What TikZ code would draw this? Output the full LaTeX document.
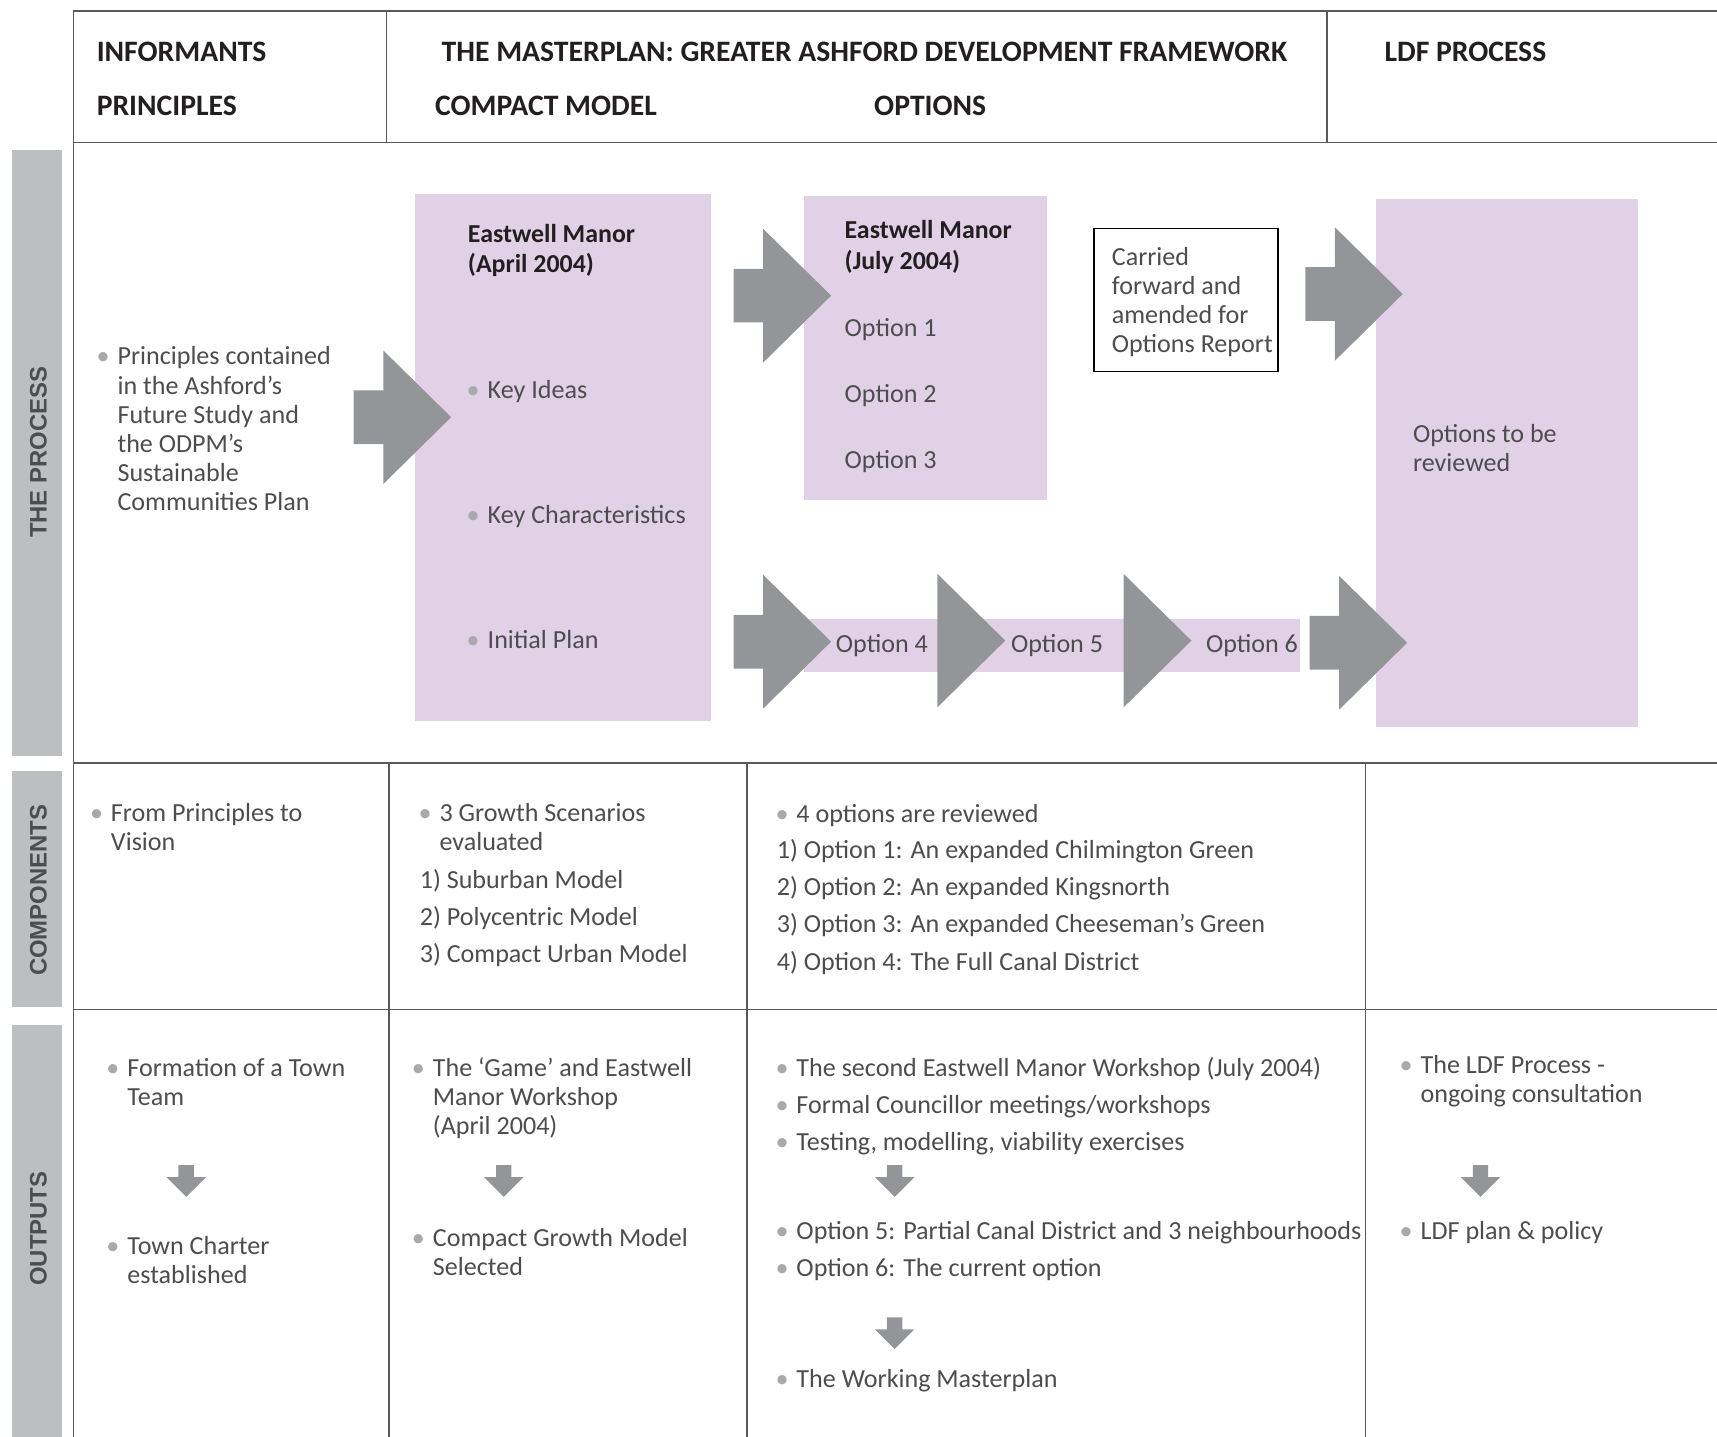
\documentclass[tikz,border=0pt]{standalone}
\usepackage{fontspec}
\setmainfont{Carlito}
\newfontfamily\sidefam{Liberation Sans}
\definecolor{lilac}{HTML}{E1D1E7}
\definecolor{arrowgrey}{HTML}{939598}
\definecolor{bargrey}{HTML}{BCBEC0}
\definecolor{rulegrey}{HTML}{58595B}
\definecolor{textgrey}{HTML}{4D4D4F}
\definecolor{headblack}{HTML}{231F20}
\definecolor{dotgrey}{HTML}{A7A9AC}
\newcommand{\bul}{\llap{\textcolor{dotgrey}{\textbullet}\hspace{4pt}}}
\tikzstyle{body} = [font=\fontsize{13.1}{14.6}\selectfont, text=textgrey, inner sep=0pt, anchor=base west, align=left]
\tikzstyle{boxtitle} = [font=\fontsize{13}{15.4}\selectfont\bfseries, text=headblack, inner sep=0pt, anchor=base west, align=left]
\tikzstyle{colhead} = [font=\fontsize{14.9}{16}\selectfont\bfseries, text=headblack, inner sep=0pt, anchor=base west]
\tikzstyle{sidelabel} = [font=\sidefam\bfseries\fontsize{12}{14}\selectfont, text=textgrey, rotate=90, inner sep=0pt]
\tikzstyle{rule} = [draw=rulegrey, line width=0.8pt]
\tikzset{
  bigarrow/.pic={\fill[arrowgrey] (0,-24.5) -- (27,-24.5) -- (27,-61) -- (89,0) -- (27,61) -- (27,24.5) -- (0,24.5) -- cycle;},
  chevron/.pic={\fill[arrowgrey] (0,-61) -- (62,0) -- (0,61) -- cycle;},
  downarrow/.pic={\fill[arrowgrey] (-7,0) -- (7,0) -- (7,11) -- (18,11) -- (0,29) -- (-18,11) -- (-7,11) -- cycle;}
}
\begin{document}
\begin{tikzpicture}[x=0.55pt, y=-0.55pt]
\useasboundingbox (0,0) rectangle (1568,1312);
% grid
\draw [rule] (67,10) -- (1568,10);
\draw [rule] (67,130) -- (1568,130);
\draw [rule] (67,10) -- (67,1312);
\draw [rule] (353,10) -- (353,130);
\draw [rule] (1212,10) -- (1212,130);
\draw [rule] (67,697) -- (1568,697);
\draw [rule] (67,922) -- (1568,922);
\draw [rule] (355,697) -- (355,1312);
\draw [rule] (682,697) -- (682,1312);
\draw [rule] (1247,697) -- (1247,1312);
% side bars
\fill [bargrey] (11,137) rectangle (57,690);
\fill [bargrey] (11,704) rectangle (57,920);
\fill [bargrey] (11,936) rectangle (57,1312);
\node (lblprocess) [sidelabel] at (35,413) {THE PROCESS};
\node (lblcomponents) [sidelabel] at (35,813) {COMPONENTS};
\node (lbloutputs) [sidelabel] at (35,1122) {OUTPUTS};
% headers
\node (informants) [colhead] at (88,56.5) {INFORMANTS};
\node (principleshd) [colhead] at (88,105.5) {PRINCIPLES};
\node (masterplan) [colhead] at (403,56.5) {THE MASTERPLAN: GREATER ASHFORD DEVELOPMENT FRAMEWORK};
\node (compacthd) [colhead] at (397,105.5) {COMPACT MODEL};
\node (optionshd) [colhead] at (798,105.5) {OPTIONS};
\node (ldfhd) [colhead] at (1264,56.5) {LDF PROCESS};
% lilac panels
\fill [lilac] (379,177) rectangle (649,658);
\fill [lilac] (734,179) rectangle (956,457);
\fill [lilac] (1257,182) rectangle (1496,664);
\fill [lilac] (734,565) rectangle (1187,614);
% process arrows
\pic at (323,381) {bigarrow};
\pic at (670,270) {bigarrow};
\pic at (1192,268.5) {bigarrow};
\pic at (670,586) {bigarrow};
\pic at (856,585) {chevron};
\pic at (1026,585) {chevron};
\pic at (1196,587) {bigarrow};
% the process (multi-line nodes sit on their last baseline)
\node (principles) [body] at (107,466) {\bul Principles contained\\in the Ashford’s\\Future Study and\\the ODPM’s\\Sustainable\\Communities Plan};
\node (apriltitle) [boxtitle] at (427,249) {Eastwell Manor\\(April 2004)};
\node (keyideas) [body] at (445,364) {\bul Key Ideas};
\node (keychar) [body] at (445,478) {\bul Key Characteristics};
\node (initplan) [body] at (445,592) {\bul Initial Plan};
\node (julytitle) [boxtitle] at (771,246) {Eastwell Manor\\(July 2004)};
\node (opt1) [body] at (771,307) {Option 1};
\node (opt2) [body] at (771,368) {Option 2};
\node (opt3) [body] at (771,428) {Option 3};
\node (carriedbox) [draw=black, line width=0.6pt, minimum width=92.4pt, minimum height=71.5pt, inner sep=0pt] at (1083,274) {};
\node (carried) [body] at (1015,322) {Carried\\forward and\\amended for\\Options Report};
\node (reviewed) [body] at (1290,431) {Options to be\\reviewed};
\node (opt4) [body] at (763,596) {Option 4};
\node (opt5) [body] at (923,596) {Option 5};
\node (opt6) [body] at (1101,596) {Option 6};
% components
\node (vision) [body] at (101,777) {\bul From Principles to\\Vision};
\node (growth) [body] at (401,777) {\bul 3 Growth Scenarios\\evaluated};
\node (models) [body] at (383,879) {1) Suburban Model\\[4.1pt]2) Polycentric Model\\[4.1pt]3) Compact Urban Model};
\node (fouropts) [body] at (727,751) {\bul 4 options are reviewed};
\node (optlist) [body] at (709,886) {1) Option 1: An expanded Chilmington Green\\[4.1pt]2) Option 2: An expanded Kingsnorth\\[4.1pt]3) Option 3: An expanded Cheeseman’s Green\\[4.1pt]4) Option 4: The Full Canal District};
% outputs
\node (townteam) [body] at (116,1010) {\bul Formation of a Town\\Team};
\pic at (170,1064) {downarrow};
\node (charter) [body] at (116,1172) {\bul Town Charter\\established};
\node (game) [body] at (395,1036) {\bul The ‘Game’ and Eastwell\\Manor Workshop\\(April 2004)};
\pic at (460,1064) {downarrow};
\node (compactsel) [body] at (395,1165) {\bul Compact Growth Model\\Selected};
\node (workshops) [body] at (727,1051) {\bul The second Eastwell Manor Workshop (July 2004)\\[4.1pt]\bul Formal Councillor meetings/workshops\\[4.1pt]\bul Testing, modelling, viability exercises};
\pic at (817,1064) {downarrow};
\node (opt56) [body] at (727,1166) {\bul Option 5: Partial Canal District and 3 neighbourhoods\\[4.1pt]\bul Option 6: The current option};
\pic at (817,1203) {downarrow};
\node (working) [body] at (727,1267) {\bul The Working Masterplan};
\node (ldfproc) [body] at (1297,1007) {\bul The LDF Process -\\ongoing consultation};
\pic at (1352,1064) {downarrow};
\node (ldfplan) [body] at (1297,1132) {\bul LDF plan \& policy};
\end{tikzpicture}
\end{document}
